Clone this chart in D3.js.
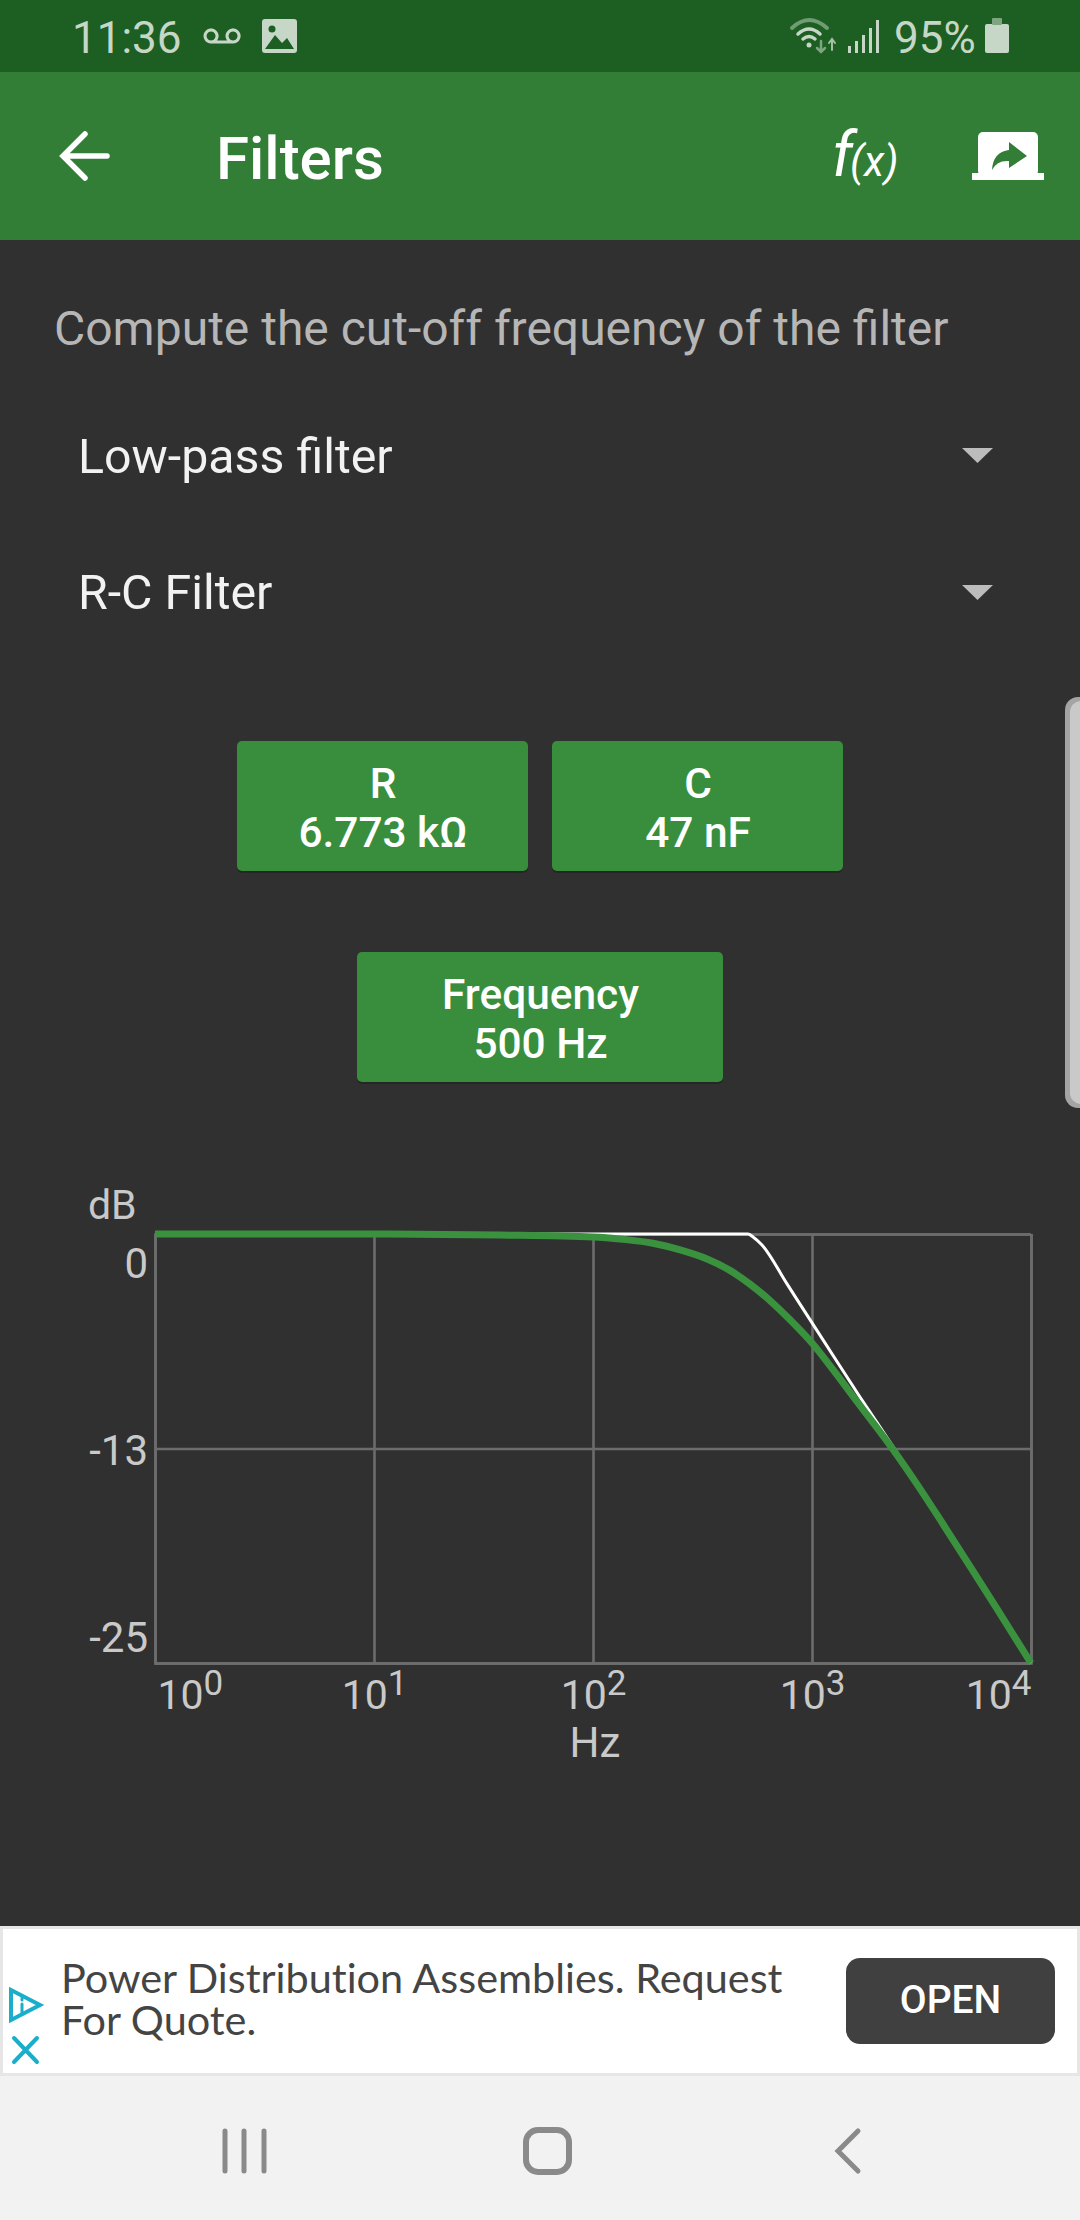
<!DOCTYPE html>
<html>
  <head>
    <meta charset="utf-8">
    <title>Filters</title>
    <script src="https://d3js.org/d3.v7.min.js"></script>
    <style>
      body { margin: 0; background: #303030; }
      svg { display: block; font-family: Roboto, sans-serif; }
      .axis text { font-family: Roboto, sans-serif; }
    </style>
  </head>
  <body>
    <svg width="1080" height="2220"></svg>
    <script>
      // values
      const xTicks = [1, 10, 100, 1000, 10000];
      const xExponents = ['0', '1', '2', '3', '4'];
      const yTicks = [0, -12.5, -25];
      const yTickLabels = ['0', '-13', '-25'];

      const responseFreq = [1, 10, 37.6, 100, 137, 188, 250, 332, 422, 521, 643, 794, 1000, 1247, 1603, 1982, 2317, 2951, 3963, 5260, 6998, 10000];
      const responseGain = [0, 0, -0.06, -0.17, -0.31, -0.54, -0.93, -1.46, -2.12, -2.92, -3.88, -5, -6.35, -7.9, -9.75, -11.3, -12.47, -14.4, -16.9, -19.35, -21.85, -25];

      const asymptoteFreq = [1, 100, 510, 538, 591, 769, 1011, 1300, 1656, 2270, 10000];
      const asymptoteGain = [0, 0, 0, -0.17, -0.64, -2.91, -5.27, -7.43, -9.5, -12.12, -25];

      const margin = { left: 155, top: 1234, width: 876, height: 429 };
      const yLabelDy = [43, 16, -12];

      const svg = d3.select('svg');

      // app chrome
      const rect = (x, y, w, h, fill, r) => svg.append('rect')
          .attr('x', x).attr('y', y).attr('width', w).attr('height', h)
          .attr('rx', r || 0).attr('fill', fill);
      const text = (x, y, str, size, fill, weight, anchor) => svg.append('text')
          .attr('x', x).attr('y', y).attr('font-size', size).attr('fill', fill)
          .attr('font-weight', weight || 400).attr('text-anchor', anchor || 'start')
          .text(str);
      const path = (d, stroke, width) => svg.append('path')
          .attr('d', d).attr('fill', 'none').attr('stroke', stroke)
          .attr('stroke-width', width).attr('stroke-linecap', 'round');

      rect(0, 0, 1080, 72, '#1d5e22');
      rect(0, 72, 1080, 168, '#327e36');

      // status bar
      const statusColor = '#c6d7c7';
      text(72, 53, '11:36', 44, statusColor);
      path('M211 30a6 6 0 1 0 0.1 0M233 30a6 6 0 1 0 0.1 0M211 42H233', statusColor, 3);
      rect(262, 19, 35, 34, statusColor, 3);
      svg.append('path').attr('d', 'M265 49L275 35L282 43L287 38L294 49Z').attr('fill', '#1d5e22');
      svg.append('circle').attr('cx', 272).attr('cy', 29).attr('r', 3.5).attr('fill', '#1d5e22');
      path('M792 28Q809 12 827 28', '#6f9c72', 4);
      path('M798 34Q809 24 820 34', statusColor, 3.5);
      path('M803 39Q809 34 815 39', statusColor, 3.5);
      svg.append('circle').attr('cx', 809).attr('cy', 45).attr('r', 2.5).attr('fill', statusColor);
      path('M821 41V52M817 48L821 52L825 48', '#7da580', 2.5);
      path('M832 50V39M829 43L832 39L835 43', '#a4bfa6', 2);
      [[848, 46], [855, 41], [862, 35], [869, 28], [876, 20]].forEach(b => rect(b[0], b[1], 3, 53 - b[1], statusColor));
      text(894, 53, '95%', 44, statusColor);
      rect(985, 24, 24, 29, statusColor, 2);
      rect(992, 18, 10, 7, '#7da580', 1);

      // toolbar
      path('M107 156H65M85 134L63 156L85 178', '#ffffff', 5.5);
      text(216, 179, 'Filters', 60, '#ffffff', 500);
      text(832, 176, 'f', 62, '#ffffff', 400).attr('font-style', 'italic');
      text(850, 176, '(x)', 42, '#ffffff', 400).attr('font-style', 'italic');
      rect(978, 132, 60, 44, '#ffffff', 5);
      rect(972, 173, 72, 7, '#ffffff');
      svg.append('path').attr('d', 'M1009 142L1027 156L1009 168V161Q997 160 992 170Q993 152 1009 150Z').attr('fill', '#327e36');

      // form
      text(54, 345, 'Compute the cut-off frequency of the filter', 48, '#b6b6b6');
      text(78, 473, 'Low-pass filter', 48.3, '#f2f2f2');
      text(78, 609, 'R-C Filter', 48.3, '#f2f2f2');
      const triangle = y => svg.append('path')
          .attr('d', `M962 ${y}H993L977.5 ${y + 15}Z`).attr('fill', '#bcbcbc');
      triangle(448);
      triangle(585);

      // buttons
      const button = (x, y, w, h, lines, base) => {
        rect(x, y + 2, w, h, '#262626', 5);
        rect(x, y, w, h, '#398e3d', 5);
        lines.forEach((l, i) => text(x + w / 2 + 0.5, base + i * 49, l, 42.4, '#ffffff', 500, 'middle'));
      };
      button(237, 741, 291, 130, ['R', '6.773 kΩ'], 798);
      button(552, 741, 291, 130, ['C', '47 nF'], 798);
      button(357, 952, 366, 130, ['Frequency', '500 Hz'], 1009);

      // scrollbar
      rect(1065, 697, 30, 411, '#a4a4a4', 13);
      rect(1070, 701, 30, 403, '#c9c9c9', 11);

      // chart
      const x = d3.scaleLog().domain([1, 10000]).range([0, margin.width]);
      const y = d3.scaleLinear().domain([0, -25]).range([0, margin.height]);
      const g = svg.append('g').attr('transform', `translate(${margin.left},${margin.top})`);
      const gridColor = '#6c6c6c';
      const labelColor = '#c9c9c9';

      const xAxis = g.append('g').attr('class', 'axis')
          .attr('transform', `translate(0,${margin.height})`)
          .call(d3.axisBottom(x).tickValues(xTicks).tickSize(-margin.height).tickFormat(''));
      const yAxis = g.append('g').attr('class', 'axis')
          .call(d3.axisLeft(y).tickValues(yTicks).tickSize(-margin.width).tickFormat(''));
      g.selectAll('.axis .tick text').remove();
      g.selectAll('.axis line, .axis path')
          .attr('stroke', gridColor).attr('stroke-width', 2.6);

      // tick labels with superscript exponents
      xAxis.selectAll('.tick').append('text')
          .attr('y', 46).attr('font-size', 41).attr('fill', labelColor)
          .attr('text-anchor', (d, i) => i === 0 ? 'start' : i === xTicks.length - 1 ? 'end' : 'middle')
          .attr('x', (d, i) => i === 0 ? 2 : 0)
          .each(function (d, i) {
            const t = d3.select(this);
            t.append('tspan').text('10');
            t.append('tspan').attr('font-size', 35).attr('dy', -14).text(xExponents[i]);
          });
      yAxis.selectAll('.tick').append('text')
          .attr('x', -7).attr('dy', (d, i) => yLabelDy[i])
          .attr('font-size', 42).attr('fill', labelColor).attr('text-anchor', 'end')
          .text((d, i) => yTickLabels[i]);

      text(88, 1219, 'dB', 41, labelColor);
      text(595, 1757, 'Hz', 42, labelColor, 400, 'middle');

      const gainLine = d3.line()
          .x(d => x(d[0])).y(d => y(d[1]))
          .curve(d3.curveMonotoneX);
      g.append('path').datum(d3.zip(asymptoteFreq, asymptoteGain))
          .attr('d', gainLine).attr('fill', 'none')
          .attr('stroke', '#ffffff').attr('stroke-width', 3);
      g.append('path').datum(d3.zip(responseFreq, responseGain))
          .attr('d', gainLine).attr('fill', 'none')
          .attr('stroke', '#3a923f').attr('stroke-width', 7);

      // ad banner
      rect(0, 1926, 1080, 294, '#f2f2f2');
      rect(0, 1926, 1080, 150, '#e6e6e6');
      rect(3, 1929, 1074, 144, '#ffffff');
      svg.append('path').attr('d', 'M11 1990V2020L40 2005Z').attr('fill', 'none')
          .attr('stroke', '#1aaecb').attr('stroke-width', 4);
      path('M22 1998V2000M22 2004V2013', '#1aaecb', 3);
      path('M14 2038L37 2062M37 2038L14 2062', '#1aaecb', 4);
      text(61, 1993, 'Power Distribution Assemblies. Request', 41.4, '#444444')
          .attr('font-family', 'Lato').style('font-variant-ligatures', 'none');
      text(61, 2035, 'For Quote.', 41.4, '#444444')
          .attr('font-family', 'Lato').style('font-variant-ligatures', 'none');
      rect(846, 1958, 209, 86, '#404040', 14);
      text(950.5, 2013, 'OPEN', 39, '#ffffff', 500, 'middle');

      // nav bar
      path('M225 2131V2171M244 2131V2171M264 2131V2171', '#8a8a8a', 5);
      svg.append('rect').attr('x', 526).attr('y', 2130).attr('width', 43).attr('height', 42).attr('rx', 12)
          .attr('fill', 'none').attr('stroke', '#8a8a8a').attr('stroke-width', 6);
      path('M858 2131L838 2151L858 2171', '#8a8a8a', 5);
    </script>
  </body>
</html>
